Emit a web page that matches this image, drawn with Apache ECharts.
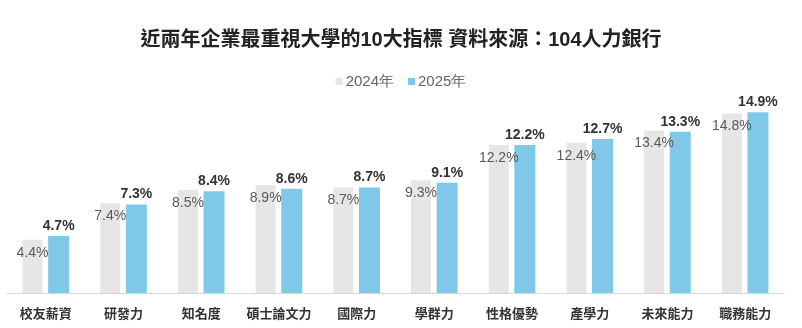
<!DOCTYPE html>
<html>
<head>
<meta charset="utf-8">
<script src="https://cdn.jsdelivr.net/npm/echarts@6/dist/echarts.min.js"></script>
<style>
html,body{margin:0;padding:0;background:#fff;}
#chart{width:802px;height:328px;}
</style>
</head>
<body>
<div id="chart"></div>
<script>
const titleText = '近兩年企業最重視大學的10大指標 資料來源：104人力銀行';
const categories = ['校友薪資','研發力','知名度','碩士論文力','國際力','學群力','性格優勢','產學力','未來能力','職務能力'];
const seriesNames = ['2024年','2025年'];
const values2024 = [4.4, 7.4, 8.5, 8.9, 8.7, 9.3, 12.2, 12.4, 13.4, 14.8];
const values2025 = [4.7, 7.3, 8.4, 8.6, 8.7, 9.1, 12.2, 12.7, 13.3, 14.9];

const numFont = '"Liberation Sans Narrow", "Liberation Sans", Arial, sans-serif';
const cjkFont = '"Liberation Sans", "Noto Sans CJK TC", sans-serif';

const chart = echarts.init(document.getElementById('chart'), null, {renderer:'canvas'});
chart.setOption({
  backgroundColor: '#ffffff',
  animation: false,
  title: {
    text: titleText,
    left: 'center',
    top: 25,
    textStyle: {fontFamily: cjkFont, fontSize: 20, fontWeight: 'bold', color: '#222222'}
  },
  legend: {
    data: seriesNames,
    left: 'center',
    top: 69,
    itemWidth: 7,
    itemHeight: 7,
    itemGap: 14,
    icon: 'rect',
    textStyle: {fontFamily: numFont, fontSize: 15, color: '#666666', padding: [0,0,0,-2]}
  },
  grid: {left: 7, right: 18, top: 99, bottom: 35, containLabel: false},
  xAxis: {
    type: 'category',
    data: categories,
    axisLine: {lineStyle: {color: '#d9d9d9', width: 1}},
    axisTick: {show: false},
    axisLabel: {interval: 0, fontFamily: cjkFont, fontSize: 13, fontWeight: 'bold', color: '#333333', margin: 15}
  },
  yAxis: {
    type: 'value',
    min: 0,
    max: 16,
    show: false,
    splitLine: {show: false}
  },
  series: [
    {
      name: seriesNames[0],
      type: 'bar',
      data: values2024,
      barWidth: 20,
      barGap: '28%',
      itemStyle: {color: '#e6e6e6'},
      label: {
        show: true,
        position: 'insideTop',
        distance: 6,
        formatter: p => p.value.toFixed(1) + '%',
        fontFamily: numFont,
        fontSize: 14,
        color: '#595959'
      }
    },
    {
      name: seriesNames[1],
      type: 'bar',
      data: values2025,
      barWidth: 21,
      itemStyle: {color: '#7fc8e8'},
      label: {
        show: true,
        position: 'top',
        distance: 3,
        formatter: p => p.value.toFixed(1) + '%',
        fontFamily: numFont,
        fontSize: 14,
        fontWeight: 'bold',
        color: '#333333'
      }
    }
  ]
});
</script>
</body>
</html>
